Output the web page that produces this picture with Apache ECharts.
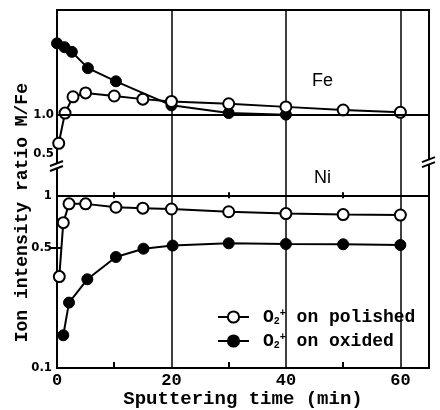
<!DOCTYPE html>
<html><head><meta charset="utf-8">
<script src="https://cdn.jsdelivr.net/npm/echarts@6/dist/echarts.min.js"></script>
<style>html,body{margin:0;padding:0;background:#fff}#c{width:440px;height:410px}</style>
</head><body><div id="c"></div>
<script>
// ---- data ----
const feTimePolished = [0.3, 1.4, 2.8, 5, 10, 15, 20, 30, 40, 50, 60];
const fePolished     = [0.63, 1.02, 1.23, 1.28, 1.24, 1.20, 1.17, 1.14, 1.10, 1.06, 1.03];
const feTimeOxided   = [0, 1.3, 2.6, 5.4, 10.3, 20, 30, 40];
const feOxided       = [1.92, 1.87, 1.81, 1.60, 1.43, 1.12, 1.02, 1.0];
const niTimePolished = [0.4, 1.1, 2.1, 5, 10.3, 15, 20, 30, 40, 50, 60];
const niPolished     = [0.34, 0.70, 0.90, 0.90, 0.86, 0.85, 0.84, 0.81, 0.79, 0.78, 0.775];
const niTimeOxided   = [1.1, 2.1, 5.3, 10.3, 15.1, 20.2, 30, 40, 50, 60];
const niOxided       = [0.155, 0.24, 0.328, 0.442, 0.494, 0.515, 0.531, 0.526, 0.524, 0.519];
const xTickLabels  = [0, 20, 40, 60];
const xMinorTicks  = [10, 30, 50];
const feTickLabels = [0.5, 1.0];
const niTickLabels = [0.1, 0.5, 1];
const niTicks      = [0.5];
const seriesNames  = ['O2+ on polished', 'O2+ on oxided'];
const panelNames   = ['Fe', 'Ni'];
const xTitle = 'Sputtering time (min)';
const yTitle = 'Ion intensity ratio M/Fe';

const zip = (xs, ys) => xs.map((x, i) => [x, ys[i]]);
const MONO = '"Liberation Mono","DejaVu Sans Mono",monospace';
const NUM = '"DejaVu Sans Condensed","DejaVu Sans",sans-serif';

const chart = echarts.init(document.getElementById('c'), null, {renderer: 'canvas'});

const openStyle = {
  symbol: 'circle', symbolSize: 11,
  itemStyle: {color: '#fff', borderColor: '#000', borderWidth: 2},
  lineStyle: {color: '#000', width: 2}, z: 4
};
const fillStyle = {
  symbol: 'circle', symbolSize: 11,
  itemStyle: {color: '#000', borderColor: '#000', borderWidth: 1},
  lineStyle: {color: '#000', width: 2}, z: 3
};

const xScale = {type: 'value', min: 0, max: 65, interval: 20};
const tickAxis = (grid, pos, extra) => Object.assign({}, xScale, {
  gridIndex: grid, position: pos,
  axisLine: {show: false}, splitLine: {show: false},
  axisTick: {show: true, customValues: xMinorTicks, inside: true, length: 6, lineStyle: {color: '#000', width: 2}},
  axisLabel: {show: false}
}, extra || {});
const splitAxis = (grid, pos) => Object.assign({}, xScale, {
  gridIndex: grid, position: pos,
  axisLine: {show: false}, axisTick: {show: false}, axisLabel: {show: false},
  splitLine: {show: true, lineStyle: {color: '#000', width: 1.5}}
});

const richBase = {fontWeight: 'bold', color: '#000', fontFamily: MONO, lineHeight: 18};
chart.setOption({
  animation: false,
  backgroundColor: '#fff',
  title: [
    {text: panelNames[0], left: 312, top: 72, padding: 0, textStyle: {fontSize: 18, fontWeight: 'normal', color: '#000', fontFamily: '"Liberation Sans",Arial,sans-serif'}},
    {text: panelNames[1], left: 314, top: 169, padding: 0, textStyle: {fontSize: 18, fontWeight: 'normal', color: '#000', fontFamily: '"Liberation Sans",Arial,sans-serif'}}
  ],
  legend: {
    data: seriesNames, orient: 'vertical', left: 217, top: 308, padding: 0,
    itemWidth: 31, itemHeight: 14, itemGap: 6,
    formatter: name => '{o|O}{b|2}{p|+}{t|' + name.slice(3) + '}',
    textStyle: {
      color: '#000', padding: [0, 0, 0, 9], lineHeight: 18,
      rich: {
        o: Object.assign({fontSize: 18}, richBase),
        b: Object.assign({}, richBase, {fontSize: 10, lineHeight: 10, verticalAlign: 'bottom'}),
        p: Object.assign({}, richBase, {fontSize: 10, lineHeight: 10, verticalAlign: 'top'}),
        t: Object.assign({fontSize: 18}, richBase)
      }
    }
  },
  grid: [
    {left: 57, right: 11, top: 10, height: 186, show: true, borderColor: '#000', borderWidth: 2, backgroundColor: 'transparent'},
    {left: 57, right: 11, top: 196, height: 172, show: true, borderColor: '#000', borderWidth: 2, backgroundColor: 'transparent'}
  ],
  xAxis: [
    tickAxis(0, 'top'),
    splitAxis(0, 'bottom'),
    splitAxis(1, 'top'),
    tickAxis(1, 'bottom', {
      axisLabel: {show: true, customValues: xTickLabels, margin: 4, fontSize: 17, fontWeight: 'bold', color: '#000', fontFamily: MONO},
      name: xTitle, nameLocation: 'middle', nameGap: 22,
      nameTextStyle: {fontSize: 19, fontWeight: 'bold', color: '#000', fontFamily: MONO}
    })
  ],
  yAxis: [
    {gridIndex: 0, type: 'value', min: -0.05, max: 2.35,
     axisLine: {show: false}, axisTick: {show: false}, splitLine: {show: false},
     axisLabel: {customValues: feTickLabels, formatter: v => Number(v).toFixed(1), margin: 3, fontSize: 13, fontWeight: 'bold', color: '#000', fontFamily: NUM}},
    {gridIndex: 1, type: 'log', logBase: 10, min: 0.1, max: 1,
     axisLine: {show: false}, splitLine: {show: false},
     axisTick: {show: true, customValues: niTicks, inside: true, length: 5, lineStyle: {color: '#000', width: 2}},
     axisLabel: {customValues: niTickLabels, formatter: v => String(v), margin: 5, fontSize: 13, fontWeight: 'bold', color: '#000', fontFamily: NUM}},
    {gridIndex: 1, type: 'log', logBase: 10, min: 0.1, max: 1, position: 'right',
     axisLine: {show: false}, splitLine: {show: false}, axisLabel: {show: false},
     axisTick: {show: true, customValues: niTicks, inside: true, length: 7, lineStyle: {color: '#000', width: 2}}}
  ],
  series: [
    Object.assign({type: 'line', name: seriesNames[1], xAxisIndex: 0, yAxisIndex: 0, data: zip(feTimeOxided, feOxided),
      markLine: {silent: true, symbol: 'none', label: {show: false}, lineStyle: {color: '#000', width: 2, type: 'solid'}, data: [{yAxis: 1.0}]}
    }, fillStyle),
    Object.assign({type: 'line', name: seriesNames[0], xAxisIndex: 0, yAxisIndex: 0, data: zip(feTimePolished, fePolished)}, openStyle),
    Object.assign({type: 'line', name: seriesNames[1], xAxisIndex: 3, yAxisIndex: 1, data: zip(niTimeOxided, niOxided)}, fillStyle),
    Object.assign({type: 'line', name: seriesNames[0], xAxisIndex: 3, yAxisIndex: 1, data: zip(niTimePolished, niPolished)}, openStyle)
  ]
});

// decorations: rotated y title and axis-break marks, placed from the axes
const L = chart.convertToPixel({gridIndex: 0}, [0, 0.35]);
const R = chart.convertToPixel({gridIndex: 0}, [65, 0.40]);
const breakMark = (p) => [
  {type: 'rect', shape: {x: p[0] - 4, y: p[1] - 2, width: 8, height: 5}, style: {fill: '#fff'}, z: 100},
  {type: 'line', shape: {x1: p[0] - 7, y1: p[1] + 1, x2: p[0] + 6, y2: p[1] - 4}, style: {stroke: '#000', lineWidth: 2}, z: 101},
  {type: 'line', shape: {x1: p[0] - 7, y1: p[1] + 6, x2: p[0] + 6, y2: p[1] + 1}, style: {stroke: '#000', lineWidth: 2}, z: 101}
];
const titleY = chart.convertToPixel({gridIndex: 1}, [0, 0.8])[1];
chart.setOption({
  graphic: [
    {type: 'text', x: 22, y: titleY, rotation: Math.PI / 2,
     style: {text: yTitle, fontSize: 18, fontWeight: 'bold', fill: '#000', fontFamily: MONO, align: 'center', verticalAlign: 'middle'}}
  ].concat(breakMark(L), breakMark(R))
});
</script></body></html>
